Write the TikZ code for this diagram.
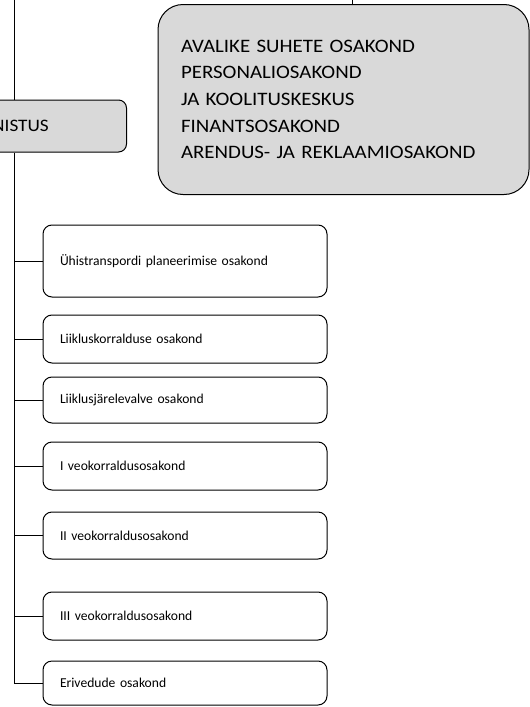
\documentclass[tikz,border=0pt]{standalone}
\usepackage{fontspec}
\setmainfont{Carlito}
\newfontfamily\widefont[FakeStretch=1.1]{Carlito}
\begin{document}
\begin{tikzpicture}[x=1pt,y=-1pt,
  graybox/.style={draw=black, line width=1pt, fill=black!15},
  subbox/.style={draw=black, line width=1pt, fill=white, rounded corners=9pt,
    minimum width=284pt, inner xsep=17pt, text width=250pt, align=left,
    font=\fontsize{13.6}{16}\selectfont, anchor=center},
  conn/.style={draw=black, line width=0.9pt}]
\useasboundingbox (0,0) rectangle (530,707);
\clip (0,0) rectangle (530,707);
% main (left) box, partly cut off
\node[graybox, rounded corners=8pt, minimum width=160pt, minimum height=52pt, anchor=east] (main) at (127,126) {};
\node[anchor=east, inner sep=0pt, font=\widefont\fontsize{17.5}{20}\selectfont] (maintext) at (49,126) {NISTUS};
% departments box
\node[graybox, rounded corners=25pt, minimum width=371pt, minimum height=190pt,
  inner xsep=23pt, text width=325pt, align=left,
  font=\widefont\fontsize{19}{26.6}\selectfont] (dept) at (343.5,99.5)
  {AVALIKE SUHETE OSAKOND\\PERSONALIOSAKOND\\JA KOOLITUSKESKUS\\FINANTSOSAKOND\\ARENDUS- JA REKLAAMIOSAKOND};
\coordinate (ttop) at (352,0);
\draw[conn] (ttop) -- (ttop |- dept.north);
% spine
\coordinate (stop) at (14,0);
\draw[conn] (stop) -- (stop |- main.north);
% sub boxes
\node[subbox, minimum height=72pt] (s1) at (185,261) {Ühistranspordi planeerimise osakond};
\node[subbox, minimum height=48pt] (s2) at (185,339) {Liikluskorralduse osakond};
\node[subbox, minimum height=46pt] (s3) at (185,400) {Liiklusjärelevalve osakond};
\node[subbox, minimum height=48pt] (s4) at (185,466) {I veokorraldusosakond};
\node[subbox, minimum height=47pt] (s5) at (185,535.5) {II veokorraldusosakond};
\node[subbox, minimum height=48pt] (s6) at (185,616) {III veokorraldusosakond};
\node[subbox, minimum height=44pt] (s7) at (185,683) {Erivedude osakond};
\coordinate (sbot) at (14,683);
\draw[conn] (stop |- main.south) -- (sbot);
\foreach \n in {s1,s2,s3,s4,s5,s6,s7}
  \draw[conn] (\n.west) -- (\n.west -| stop);
\end{tikzpicture}
\end{document}
